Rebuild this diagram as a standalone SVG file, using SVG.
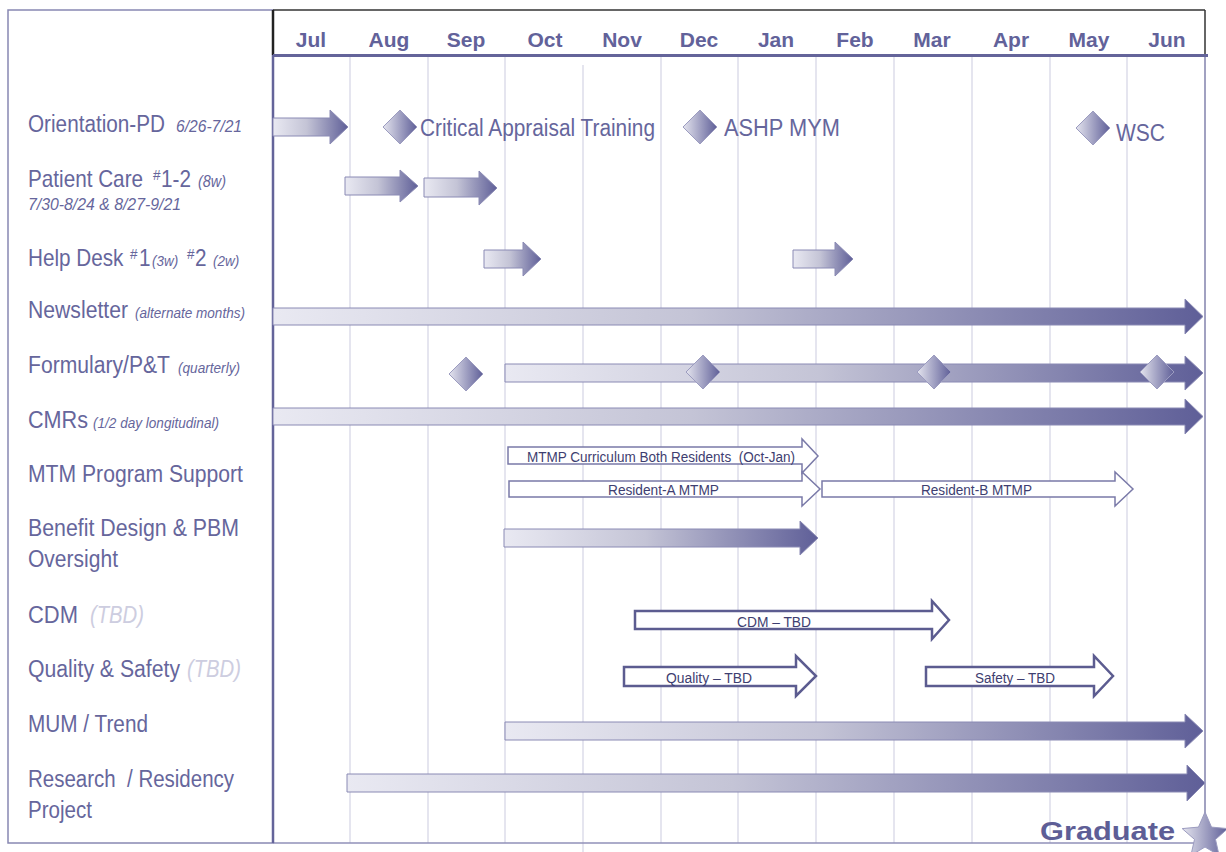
<svg xmlns="http://www.w3.org/2000/svg" width="1226" height="852" viewBox="0 0 1226 852">
<defs>
<linearGradient id="shade" x1="0" y1="0" x2="1" y2="0">
<stop offset="0" stop-color="#e9e9f2"/>
<stop offset="0.45" stop-color="#c4c4d6"/>
<stop offset="1" stop-color="#5f5f98"/>
</linearGradient>
<linearGradient id="dshade" x1="0" y1="0" x2="1" y2="0">
<stop offset="0" stop-color="#e4e4ee"/>
<stop offset="1" stop-color="#5f5f98"/>
</linearGradient>
<style>
.lbl{font-family:"Liberation Sans",Arial,sans-serif;font-size:23px;fill:#66669c}
.sm{font-family:"Liberation Sans",Arial,sans-serif;font-size:16px;font-style:italic;fill:#66669c}
.xs{font-family:"Liberation Sans",Arial,sans-serif;font-size:14px;font-style:italic;fill:#66669c}
.tbd{font-family:"Liberation Sans",Arial,sans-serif;font-size:23px;font-style:italic;fill:#cdcde0}
.mon{font-family:"Liberation Sans",Arial,sans-serif;font-size:21px;font-weight:bold;fill:#62629a;text-anchor:middle}
.al{font-family:"Liberation Sans",Arial,sans-serif;font-size:14px;fill:#3e3e70;white-space:pre}
.grid{stroke:#dcdcea;stroke-width:1.5}
.sa{fill:url(#shade);stroke:#8a8ab4;stroke-width:1}
.oa{fill:#ffffff;stroke:#7a7aa8;stroke-width:1.5}
.ob{fill:#ffffff;stroke:#5c5c90;stroke-width:2.5}
.dia{fill:url(#dshade);stroke:#9c9cc0;stroke-width:1}
</style>
</defs>
<rect width="1226" height="852" fill="#ffffff"/>

<g id="grid">
<line class="grid" x1="350" y1="57" x2="350" y2="843"/>
<line class="grid" x1="428" y1="57" x2="428" y2="843"/>
<line class="grid" x1="505" y1="57" x2="505" y2="843"/>
<line class="grid" x1="583" y1="65" x2="583" y2="852"/>
<line class="grid" x1="661" y1="57" x2="661" y2="843"/>
<line class="grid" x1="738" y1="57" x2="738" y2="843"/>
<line class="grid" x1="816" y1="57" x2="816" y2="843"/>
<line class="grid" x1="894" y1="57" x2="894" y2="843"/>
<line class="grid" x1="972" y1="57" x2="972" y2="843"/>
<line class="grid" x1="1050" y1="57" x2="1050" y2="843"/>
<line class="grid" x1="1127" y1="57" x2="1127" y2="843"/>
</g>

<g id="frame">
<rect x="8" y="10" width="265" height="833" fill="none" stroke="#8888b2" stroke-width="1.5"/>
<line x1="273" y1="10" x2="1205" y2="10" stroke="#333333" stroke-width="1.5"/>
<line x1="1205" y1="10" x2="1205" y2="55" stroke="#333333" stroke-width="1.5"/>
<line x1="1205" y1="55" x2="1205" y2="843" stroke="#8282ac" stroke-width="1.5"/>
<line x1="273" y1="843" x2="1205" y2="843" stroke="#9090b8" stroke-width="1.5"/>
<line x1="273" y1="10" x2="273" y2="55" stroke="#222222" stroke-width="2.5"/>
<line x1="273" y1="55" x2="273" y2="843" stroke="#64649a" stroke-width="2.5"/>
<line x1="273" y1="55.5" x2="1208" y2="55.5" stroke="#64649a" stroke-width="3"/>
</g>

<g id="months">
<text class="mon" x="311" y="47">Jul</text>
<text class="mon" x="389" y="47">Aug</text>
<text class="mon" x="466" y="47">Sep</text>
<text class="mon" x="545" y="47">Oct</text>
<text class="mon" x="622" y="47">Nov</text>
<text class="mon" x="699" y="47">Dec</text>
<text class="mon" x="776" y="47">Jan</text>
<text class="mon" x="855" y="47">Feb</text>
<text class="mon" x="932" y="47">Mar</text>
<text class="mon" x="1011" y="47">Apr</text>
<text class="mon" x="1089" y="47">May</text>
<text class="mon" x="1167" y="47">Jun</text>
</g>

<g id="row-orientation">
<text class="lbl" x="28" y="132" textLength="137" lengthAdjust="spacingAndGlyphs">Orientation-PD</text>
<text class="sm" x="176" y="132" textLength="66" lengthAdjust="spacingAndGlyphs">6/26-7/21</text>
<path class="sa" d="M273,118 L330,118 L330,110 L348,127 L330,144 L330,136 L273,136 Z"/>
<path class="dia" d="M400,110 L417,127 L400,144 L383,127 Z"/>
<text class="lbl" x="420" y="136" textLength="235" lengthAdjust="spacingAndGlyphs">Critical Appraisal Training</text>
<path class="dia" d="M700,110 L717,127 L700,144 L683,127 Z"/>
<text class="lbl" x="724" y="136" textLength="116" lengthAdjust="spacingAndGlyphs">ASHP MYM</text>
<path class="dia" d="M1093,111 L1110,128 L1093,145 L1076,128 Z"/>
<text class="lbl" x="1116" y="141" textLength="49" lengthAdjust="spacingAndGlyphs">WSC</text>
</g>

<g id="row-patient-care">
<text class="lbl" transform="translate(28,187) scale(0.9,1)"><tspan x="0" y="0">Patient Care</tspan><tspan x="138.9" y="-7" font-size="15">#</tspan><tspan x="147.8" y="0">1-2</tspan><tspan x="188.9" y="0" font-size="16" font-style="italic">(8w)</tspan></text>
<text class="sm" x="28" y="210" textLength="153" lengthAdjust="spacingAndGlyphs">7/30-8/24 &amp; 8/27-9/21</text>
<path class="sa" d="M345,177 L400,177 L400,170 L418,186 L400,202 L400,195 L345,195 Z"/>
<path class="sa" d="M424,178 L479,178 L479,171 L497,188 L479,205 L479,197 L424,197 Z"/>
</g>

<g id="row-help-desk">
<text class="lbl" transform="translate(28,266) scale(0.9,1)"><tspan x="0" y="0">Help Desk</tspan><tspan x="113.3" y="-7" font-size="15">#</tspan><tspan x="123.3" y="0">1</tspan><tspan x="137.8" y="0" font-size="15" font-style="italic">(3w)</tspan><tspan x="176.7" y="-7" font-size="15">#</tspan><tspan x="185.6" y="0">2</tspan><tspan x="205.6" y="0" font-size="15" font-style="italic">(2w)</tspan></text>
<path class="sa" d="M484,250 L523,250 L523,242 L541,259 L523,276 L523,268 L484,268 Z"/>
<path class="sa" d="M793,250 L835,250 L835,242 L853,259 L835,276 L835,268 L793,268 Z"/>
</g>

<g id="row-newsletter">
<text class="lbl" x="28" y="318" textLength="100" lengthAdjust="spacingAndGlyphs">Newsletter</text>
<text class="xs" x="135" y="318" textLength="110" lengthAdjust="spacingAndGlyphs">(alternate months)</text>
<path class="sa" d="M273,308 L1185,308 L1185,299 L1203,316.5 L1185,334 L1185,325 L273,325 Z"/>
</g>

<g id="row-formulary">
<text class="lbl" x="28" y="373" textLength="142" lengthAdjust="spacingAndGlyphs">Formulary/P&amp;T</text>
<text class="xs" x="178" y="373" textLength="62" lengthAdjust="spacingAndGlyphs">(quarterly)</text>
<path class="sa" d="M505,364 L1185,364 L1185,356 L1203,373 L1185,390 L1185,382 L505,382 Z"/>
<path class="dia" d="M466,357 L483,374 L466,391 L449,374 Z"/>
<path class="dia" d="M703,355 L720,372 L703,389 L686,372 Z"/>
<path class="dia" d="M934,355 L951,372 L934,389 L917,372 Z"/>
<path class="dia" d="M1157,355 L1174,372 L1157,389 L1140,372 Z"/>
</g>

<g id="row-cmrs">
<text class="lbl" x="28" y="428" textLength="60" lengthAdjust="spacingAndGlyphs">CMRs</text>
<text class="xs" x="93" y="428" textLength="126" lengthAdjust="spacingAndGlyphs">(1/2 day longitudinal)</text>
<path class="sa" d="M273,408 L1185,408 L1185,399 L1203,416.5 L1185,434 L1185,425 L273,425 Z"/>
</g>

<g id="row-mtm">
<text class="lbl" x="28" y="482" textLength="215" lengthAdjust="spacingAndGlyphs">MTM Program Support</text>
<path class="oa" d="M508,447 L802,447 L802,439 L818,456 L802,473 L802,464 L508,464 Z"/>
<text class="al" x="527" y="462" textLength="268" lengthAdjust="spacingAndGlyphs">MTMP Curriculum Both Residents  (Oct-Jan)</text>
<path class="oa" d="M509,481 L802,481 L802,472 L820,489 L802,506 L802,497 L509,497 Z"/>
<text class="al" x="608" y="495" textLength="111" lengthAdjust="spacingAndGlyphs">Resident-A MTMP</text>
<path class="oa" d="M822,481 L1115,481 L1115,472 L1133,489 L1115,506 L1115,497 L822,497 Z"/>
<text class="al" x="921" y="495" textLength="111" lengthAdjust="spacingAndGlyphs">Resident-B MTMP</text>
</g>

<g id="row-benefit">
<text class="lbl" x="28" y="536" textLength="211" lengthAdjust="spacingAndGlyphs">Benefit Design &amp; PBM</text>
<text class="lbl" x="28" y="567" textLength="90" lengthAdjust="spacingAndGlyphs">Oversight</text>
<path class="sa" d="M504,529 L800,529 L800,521 L818,538 L800,555 L800,547 L504,547 Z"/>
</g>

<g id="row-cdm">
<text class="lbl" x="28" y="623" textLength="50" lengthAdjust="spacingAndGlyphs">CDM</text>
<text class="tbd" x="90" y="623" textLength="54" lengthAdjust="spacingAndGlyphs">(TBD)</text>
<path class="ob" d="M635,611 L932,611 L932,601 L949,620 L932,639 L932,629 L635,629 Z"/>
<text class="al" x="737" y="627" textLength="74" lengthAdjust="spacingAndGlyphs">CDM – TBD</text>
</g>

<g id="row-quality">
<text class="lbl" x="28" y="677" textLength="152" lengthAdjust="spacingAndGlyphs">Quality &amp; Safety</text>
<text class="tbd" x="187" y="677" textLength="54" lengthAdjust="spacingAndGlyphs">(TBD)</text>
<path class="ob" d="M624,667 L796,667 L796,656 L816,676 L796,696 L796,686 L624,686 Z"/>
<text class="al" x="666" y="683" textLength="86" lengthAdjust="spacingAndGlyphs">Quality – TBD</text>
<path class="ob" d="M926,667 L1094,667 L1094,656 L1113,676 L1094,696 L1094,686 L926,686 Z"/>
<text class="al" x="975" y="683" textLength="80" lengthAdjust="spacingAndGlyphs">Safety – TBD</text>
</g>

<g id="row-mum">
<text class="lbl" x="28" y="732" textLength="120" lengthAdjust="spacingAndGlyphs">MUM / Trend</text>
<path class="sa" d="M505,722 L1185,722 L1185,714 L1203,731 L1185,748 L1185,740 L505,740 Z"/>
</g>

<g id="row-research">
<text class="lbl" x="28" y="787" textLength="206" lengthAdjust="spacingAndGlyphs" style="white-space:pre">Research  / Residency</text>
<text class="lbl" x="28" y="818" textLength="64" lengthAdjust="spacingAndGlyphs">Project</text>
<path class="sa" d="M347,774 L1187,774 L1187,765 L1205,783 L1187,801 L1187,792 L347,792 Z"/>
</g>

<g id="graduate">
<text x="1040" y="840" font-family="'Liberation Sans',Arial,sans-serif" font-size="26" font-weight="bold" fill="#5e5e96" textLength="135" lengthAdjust="spacingAndGlyphs">Graduate</text>
<path class="dia" d="M1205,812 L1211.5,827.1 L1227.8,828.6 L1215.5,839.4 L1219.1,855.4 L1205,847 L1190.9,855.4 L1194.5,839.4 L1182.2,828.6 L1198.5,827.1 Z"/>
</g>
</svg>
